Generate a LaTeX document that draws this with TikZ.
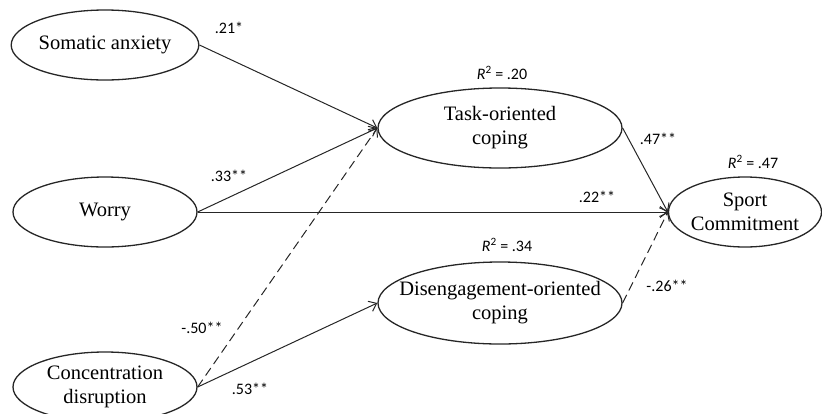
\documentclass[tikz,border=0pt]{standalone}
\usepackage{fontspec}
\setmainfont{Liberation Serif}
\newfontfamily\labfont{Carlito}
\usetikzlibrary{shapes.geometric,arrows.meta}

\tikzset{
	latent/.style={ellipse,draw=black!85,line width=1.3pt,inner sep=0pt,align=center,
		font=\fontsize{20.5}{24}\selectfont},
	effect/.style={draw=black!85,line width=1pt,-{Straight Barb[length=7pt,width=11pt]}},
	neg/.style={effect,dash pattern=on 9pt off 5pt},
	coef/.style={font=\labfont\fontsize{16}{18}\selectfont,inner sep=1pt}
}

\begin{document}
\begin{tikzpicture}[x=1pt,y=-1pt]
		\useasboundingbox (0,0) rectangle (822,413);
		\clip (0,0) rectangle (822,413);
		% predictors
		\node[latent,minimum width=184pt,minimum height=70pt] (soma) at (105,45) {Somatic anxiety};
		\node[latent,minimum width=184pt,minimum height=70pt] (worry) at (105,212) {Worry};
		\node[latent,minimum width=184pt,minimum height=70pt] (conc) at (105,387) {Concentration\\disruption};
		% mediators and outcome
		\node[latent,minimum width=244pt,minimum height=80pt] (task) at (500,128) {Task-oriented\\coping};
		\node[latent,inner xsep=-30pt,minimum width=244pt,minimum height=82pt] (dis) at (500,303) {Disengagement-oriented\\coping};
		\node[latent,minimum width=146pt,minimum height=70pt] (sport) at (745,212) {Sport\\Commitment};
		% paths
		\draw[effect] (soma.east) -- (task.west);
		\draw[effect] (worry.east) -- (task.west);
		\draw[neg] (conc.east) -- (task.west);
		\draw[effect] (conc.east) -- (dis.west);
		\draw[effect] (worry.east) -- (sport.west);
		\draw[effect] (task.east) -- (sport.west);
		\draw[neg] (dis.east) -- (sport.west);
		% coefficients
		\foreach \n/\x/\y/\t in
		{
		ca/229/28/{.21*},
		cb/229/176/{.33**},
		cc/597/197/{.22**},
		cd/658/139/{.47**},
		ce/667/286/{-.26**},
		cf/202/328/{-.50**},
		cg/250/389/{.53**},
		ra/502/73/{\textit{R}\textsuperscript{2} = .20},
		rb/753/162/{\textit{R}\textsuperscript{2} = .47},
		rc/507/245/{\textit{R}\textsuperscript{2} = .34}
		}
		\node[coef] (\n) at (\x,\y) {\t};
	\end{tikzpicture}
\end{document}
